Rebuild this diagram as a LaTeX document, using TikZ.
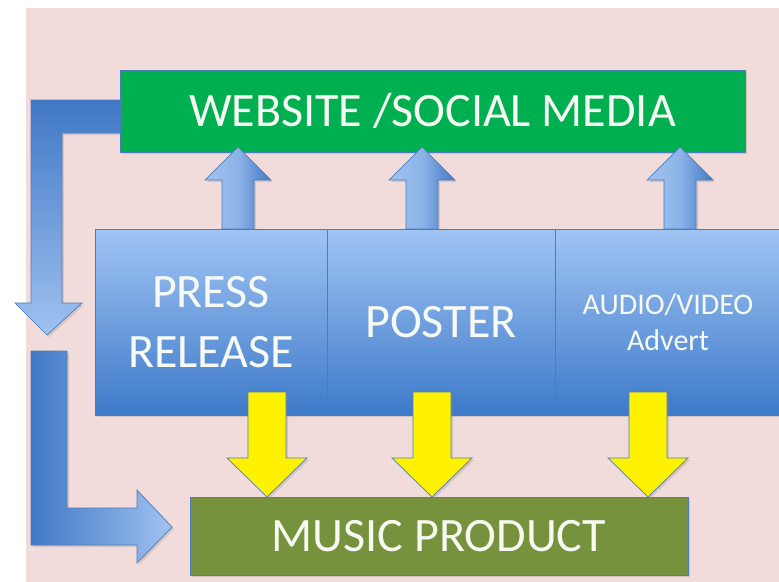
\documentclass[tikz,border=0pt]{standalone}
\usepackage{fontspec}
\setmainfont{Carlito}
\usetikzlibrary{shadows}

\definecolor{bgpink}{RGB}{242,220,219}
\definecolor{webgreen}{RGB}{0,176,80}
\definecolor{prodolive}{RGB}{118,146,60}
\definecolor{boxtop}{RGB}{160,196,244}
\definecolor{boxbot}{RGB}{62,122,201}
\definecolor{boxline}{RGB}{74,126,187}
\definecolor{arrdark}{RGB}{64,120,198}
\definecolor{arrlight}{RGB}{160,194,240}
\definecolor{txtwhite}{RGB}{246,250,242}

\tikzset{
  lightshadow/.style={drop shadow={opacity=.25,shadow xshift=2pt,shadow yshift=-2pt}},
  mediabox/.style={draw=boxline,line width=.8pt,inner sep=0pt,lightshadow,
    text=txtwhite,align=center},
  bluebox/.style={mediabox,top color=boxtop,bottom color=boxbot},
  bigtext/.style={font=\fontsize{48}{60}\selectfont},
  uparr/.style={draw=boxline,line width=.7pt,left color=arrlight,right color=arrdark,
    middle color=arrlight!80!arrdark,lightshadow},
  yelarr/.style={draw=boxline,line width=.7pt,fill=yellow,lightshadow}
}

\newcommand\upblock[1]{%
  \draw[uparr] ({#1-16},229) -- ({#1-16},180) -- ({#1-33},180) -- (#1,147)
    -- ({#1+33},180) -- ({#1+16},180) -- ({#1+16},229) -- cycle;}
\newcommand\downblock[1]{%
  \draw[yelarr] ({#1-19},392) -- ({#1-19},458) -- ({#1-40},458) -- (#1,497)
    -- ({#1+40},458) -- ({#1+19},458) -- ({#1+19},392) -- cycle;}

\begin{document}
\begin{tikzpicture}[x=1pt,y=-1pt]
\useasboundingbox (0,0) rectangle (779,581);
\fill[bgpink] (26,8) rectangle (782,584);

% bent arrows on the left
\draw[draw=boxline,line width=.7pt,top color=arrdark,bottom color=arrlight,lightshadow]
  (31,100) -- (131,100) -- (131,133) -- (62,133) -- (62,303) -- (82,303)
  -- (47,335) -- (15,303) -- (31,303) -- cycle;
\draw[draw=boxline,line width=.7pt,left color=arrdark,right color=arrlight,lightshadow]
  (31,351) -- (67,351) -- (67,508) -- (137,508) -- (137,490) -- (172,527)
  -- (137,563) -- (137,545) -- (31,545) -- cycle;

\node[mediabox,bigtext,fill=webgreen,minimum width=625pt,minimum height=82pt] (web)
  at (432.5,111) {WEBSITE /SOCIAL MEDIA};
\node[mediabox,bigtext,fill=prodolive,minimum width=498pt,minimum height=78pt] (product)
  at (439,536) {MUSIC PRODUCT};

\upblock{238}
\upblock{422}
\upblock{680}

\node[bluebox,bigtext,minimum width=232pt,minimum height=186pt] (press) at (211,322)
  {PRESS\\RELEASE};
\node[bluebox,bigtext,minimum width=228pt,minimum height=186pt] (poster) at (441,322)
  {POSTER};
\node[bluebox,font=\fontsize{30}{36}\selectfont,minimum width=226pt,minimum height=186pt]
  (advert) at (668,322) {AUDIO/VIDEO\\Advert};

\downblock{267}
\downblock{432}
\downblock{648}
\end{tikzpicture}
\end{document}
